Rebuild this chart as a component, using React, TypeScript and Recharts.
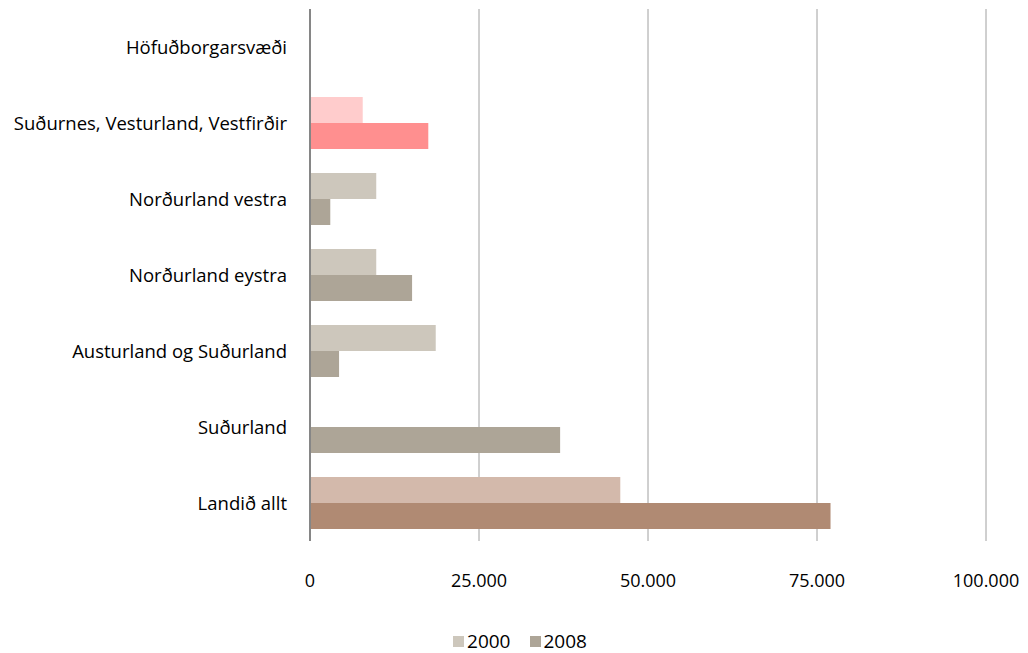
import { BarChart, Bar, XAxis, YAxis, CartesianGrid, Legend, Cell } from 'recharts';

const categories = [
  'Höfuðborgarsvæði',
  'Suðurnes, Vesturland, Vestfirðir',
  'Norðurland vestra ',
  'Norðurland eystra',
  'Austurland og Suðurland',
  'Suðurland',
  'Landið allt',
];
const values2000 = [0, 7800, 9800, 9800, 18600, 0, 45900];
const values2008 = [0, 17500, 3000, 15100, 4300, 37000, 77000];
const xTicks = [0, 25000, 50000, 75000, 100000];

const colors2000 = ['#CDC7BC', '#FFCCCC', '#CDC7BC', '#CDC7BC', '#CDC7BC', '#CDC7BC', '#D3B9AB'];
const colors2008 = ['#ADA597', '#FF8F8F', '#ADA597', '#ADA597', '#ADA597', '#ADA597', '#B08A73'];

const data = categories.map((name, i) => ({ name, y2000: values2000[i], y2008: values2008[i] }));

const fmt = (v: number) => (v === 0 ? '0' : v.toLocaleString('de-DE'));

const font = "'Open Sans', sans-serif";

const LegendContent = () => (
  <div
    style={{
      display: 'flex',
      justifyContent: 'center',
      gap: 19,
      paddingLeft: 54,
      fontFamily: font,
      fontSize: 19,
      lineHeight: '24px',
      color: '#000',
    }}
  >
    {[['2000', '#CDC7BC'], ['2008', '#ADA597']].map(([label, c]) => (
      <span key={label} style={{ display: 'flex', alignItems: 'center', gap: 3 }}>
        <span style={{ width: 11, height: 11, background: c, display: 'inline-block' }} />
        {label}
      </span>
    ))}
  </div>
);

export default function App() {
  return (
    <div style={{ position: 'absolute', left: 0, top: 0, background: '#fff' }}>
      <BarChart
        width={1028}
        height={653}
        data={data}
        layout="vertical"
        margin={{ top: 9, right: 42, left: 0, bottom: 0 }}
        barCategoryGap={12}
        barGap={0}
      >
        <CartesianGrid horizontal={false} stroke="#A0A0A0" />
        <XAxis
          type="number"
          domain={[0, 100000]}
          ticks={xTicks}
          tickFormatter={fmt}
          axisLine={false}
          tickLine={false}
          tickMargin={27}
          height={88}
          tick={{ fill: '#000', fontSize: 18, fontFamily: font }}
        />
        <YAxis
          type="category"
          dataKey="name"
          width={310}
          axisLine={{ stroke: '#868686', strokeWidth: 2 }}
          tickLine={false}
          tickSize={0}
          tickMargin={23}
          tick={{ fill: '#000', fontSize: 18.5, fontFamily: font }}
        />
        <Legend verticalAlign="bottom" height={24} content={() => <LegendContent />} />
        <Bar dataKey="y2000" isAnimationActive={false}>
          {values2000.map((_, i) => (
            <Cell key={i} fill={colors2000[i]} />
          ))}
        </Bar>
        <Bar dataKey="y2008" isAnimationActive={false}>
          {values2008.map((_, i) => (
            <Cell key={i} fill={colors2008[i]} />
          ))}
        </Bar>
      </BarChart>
    </div>
  );
}
